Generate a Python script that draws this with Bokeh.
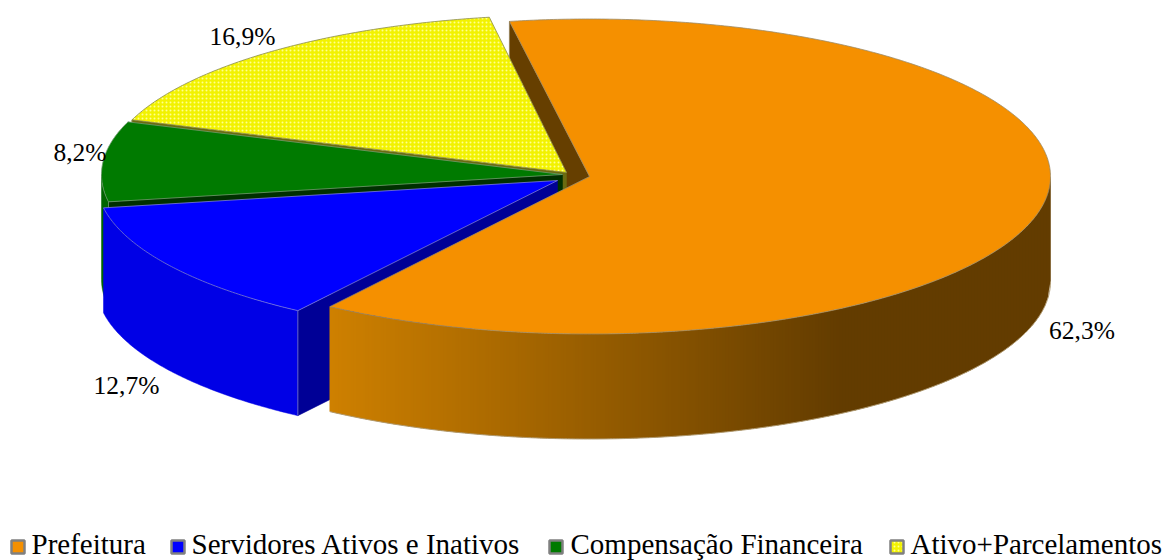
import math
from bokeh.plotting import figure
from bokeh.models import Range1d
from bokeh.core.properties import value
from bokeh.embed import file_html
from bokeh.resources import INLINE

categories = ["Prefeitura", "Servidores Ativos e Inativos", "Compensação Financeira", "Ativo+Parcelamentos"]
shares = [62.3, 12.7, 8.2, 16.9]
labels = ["62,3%", "12,7%", "8,2%", "16,9%"]

top_colors = ["#F59000", "#0000FF", "#007A00", "#F2F200"]
rim_colors = ["#663F00", "#0000E6", "#006400", "#6B6B10"]
wall_colors = ["#663F00", "#000096", "#003000", "#6B6B10"]
edge_colors = ["#9C8A66", "#7C7CD8", "#6F9A6F", "#8A8A50"]

# layout of the projected pie (picture pixels)
RX, RY, DEPTH = 461.0, 157.5, 105.0
FIRST_ANGLE = -10.0
centers = [(589, 176), (557, 180), (562, 174), (566, 172)]
label_pos = [(1081.5, 330), (126, 385), (79.5, 152), (242, 36)]
legend_swatch_x = [17.5, 177.5, 555.5, 896.5]
legend_text_x = [31, 191, 570, 910]
LEGEND_SWATCH_Y = 546.5
LEGEND_TEXT_Y = 543.5
FONT = value("Liberation Serif")
W, H = 1166, 560

p = figure(width=W, height=H, x_range=Range1d(0, W), y_range=Range1d(H, 0),
           output_backend="svg", toolbar_location=None, min_border=0)
p.axis.visible = False
p.grid.visible = False
p.outline_line_color = None


def point(c, deg, drop=0.0):
    r = math.radians(deg)
    return c[0] + RX * math.sin(r), c[1] - RY * math.cos(r) + drop


def arc(c, a0, a1, drop=0.0):
    n = max(2, int(abs(a1 - a0) * 2))
    return [point(c, a0 + (a1 - a0) * i / n, drop) for i in range(n + 1)]


def shade(x):
    """Horizontal shading of the big slice's rim, left bright to right dark."""
    t = min(1.0, max(0.0, (x - 330) / (840 - 330)))
    a, b = (0xCE, 0x80, 0x00), (0x63, 0x3C, 0x00)
    return "#%02X%02X%02X" % tuple(round(a[i] + (b[i] - a[i]) * t) for i in range(3))


def polygon(pts, **kw):
    p.patch([q[0] for q in pts], [q[1] for q in pts], **kw)


def outline(pts, color, width=0.8):
    p.line([q[0] for q in pts], [q[1] for q in pts], line_color=color, line_width=width)


# angular spans: the largest slice runs clockwise from FIRST_ANGLE, the others follow
spans = []
a = FIRST_ANGLE
for s in shares:
    spans.append((a, a + s * 3.6))
    a += s * 3.6


def wall(i, ang):
    c = centers[i]
    e = point(c, ang)
    pts = [c, e, (e[0], e[1] + DEPTH), (c[0], c[1] + DEPTH)]
    polygon(pts, fill_color=wall_colors[i], line_color=wall_colors[i], line_width=0.5)
    outline([e, (e[0], e[1] + DEPTH)], edge_colors[i])


def rim(i, a0, a1):
    c = centers[i]
    up = arc(c, a0, a1)
    dn = arc(c, a0, a1, DEPTH)
    polygon(up + dn[::-1], fill_color=rim_colors[i], line_color=rim_colors[i], line_width=0.5)


def top(i, **extra):
    c = centers[i]
    a0, a1 = spans[i]
    pts = [c] + arc(c, a0, a1)
    polygon(pts + [c], fill_color=top_colors[i], line_color=None, **extra)
    outline(pts + [c], edge_colors[i])


HATCH = dict(hatch_pattern="dot", hatch_color="#FFFF90", hatch_scale=4, hatch_weight=1.2)

# back to front
wall(0, spans[0][0])

wall(3, spans[3][0])
top(3, **HATCH)

rim(2, spans[2][0], 270)
wall(2, spans[2][0])
top(2)

rim(1, spans[1][0], spans[1][1])
wall(1, spans[1][0])
top(1)

# orange rim as overlapping shaded columns painted left to right
c0 = centers[0]
x0 = int(point(c0, spans[0][1])[0])
x1 = int(c0[0] + RX)
strips_x, strips_y, strips_c = [], [], []
for xa in range(x0, x1, 3):
    xb = min(xa + 5, x1)
    ya, yb = [c0[1] + RY * math.sqrt(max(0.0, 1 - ((v - c0[0]) / RX) ** 2)) for v in (xa, xb)]
    strips_x.append([xa, xb, xb, xa])
    strips_y.append([ya, yb, yb + DEPTH, ya + DEPTH])
    strips_c.append(shade(xa + 1.5))
p.patches(strips_x, strips_y, fill_color=strips_c, fill_alpha=1.0, line_color=None)
rim_dn = arc(c0, 90, spans[0][1], DEPTH)
outline(rim_dn, "#B09A70", 1.0)
top(0)

# data labels
p.text([q[0] for q in label_pos], [q[1] for q in label_pos], text=labels,
       text_font=FONT, text_font_size="25.5px", text_color="#000000",
       text_align="center", text_baseline="middle")

# legend
for i in range(len(categories)):
    kw = HATCH if i == 3 else {}
    p.rect([legend_swatch_x[i]], [LEGEND_SWATCH_Y], width=13, height=13, fill_color=top_colors[i],
           line_color="#808080", line_width=2.5, **kw)
p.text(legend_text_x, [LEGEND_TEXT_Y] * 4, text=categories, text_font=FONT, text_font_size="29px",
       text_color="#000000", text_align="left", text_baseline="middle")

open("out.html", "w").write(file_html(p, INLINE))
